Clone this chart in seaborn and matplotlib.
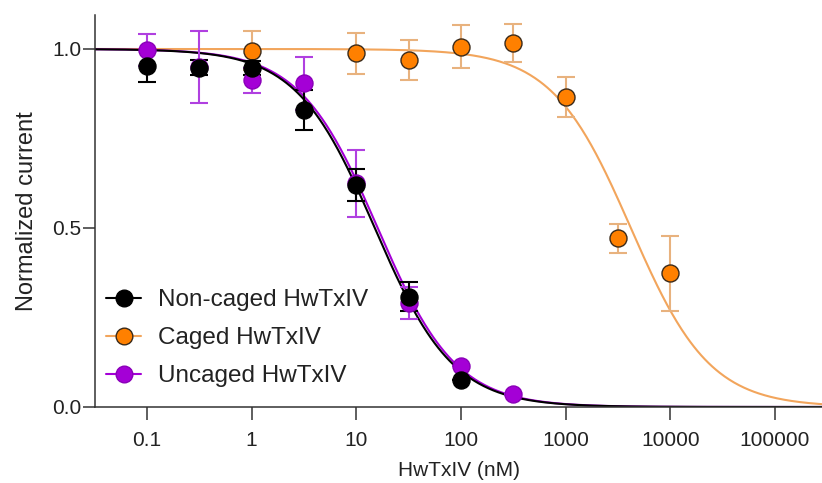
import numpy as np
import pandas as pd
import matplotlib
matplotlib.use("Agg")
import matplotlib.pyplot as plt
from matplotlib.lines import Line2D
import seaborn as sns

# --- data ---
conc_noncaged = [0.1, 0.316, 1, 3.16, 10, 31.6, 100]
resp_noncaged = [0.953, 0.948, 0.946, 0.830, 0.620, 0.308, 0.075]
err_noncaged = [0.045, 0.02, 0.02, 0.056, 0.045, 0.040, 0.0]

conc_caged = [1, 10, 31.6, 100, 316, 1000, 3162, 10000]
resp_caged = [0.995, 0.988, 0.969, 1.006, 1.018, 0.867, 0.471, 0.373]
err_caged = [0.055, 0.057, 0.055, 0.060, 0.053, 0.056, 0.040, 0.105]

conc_uncaged = [0.1, 0.316, 1, 3.16, 10, 31.6, 100, 316]
resp_uncaged = [0.997, 0.950, 0.913, 0.904, 0.625, 0.290, 0.115, 0.035]
err_uncaged = [0.045, 0.100, 0.035, 0.075, 0.093, 0.045, 0.0, 0.0]

# fitted Hill parameters (IC50 in nM, slope)
fit_noncaged = (15.0, 1.16)
fit_caged = (4200.0, 1.15)
fit_uncaged = (16.0, 1.16)

labels = ["Non-caged HwTxIV", "Caged HwTxIV", "Uncaged HwTxIV"]
marker_colors = ["#000000", "#FF8000", "#A400D6"]
curve_colors = ["#000000", "#F2A55C", "#A400D6"]
bar_colors = ["#000000", "#E8B27E", "#B040E0"]
edge_colors = ["#000000", "#3A2A1A", "#8A00B8"]

sns.set_style("ticks")
plt.rcParams["font.family"] = ["Liberation Sans", "DejaVu Sans"]

fig = plt.figure(figsize=(8.22, 4.83), dpi=100)
ax = fig.add_axes([0.1156, 0.1574, 0.8844, 0.8116])

xgrid = np.logspace(-1.5, 5.5, 600)
series = [
    (conc_noncaged, resp_noncaged, err_noncaged, fit_noncaged),
    (conc_caged, resp_caged, err_caged, fit_caged),
    (conc_uncaged, resp_uncaged, err_uncaged, fit_uncaged),
]

# curves (purple first so the black one sits on top)
for i in [1, 2, 0]:
    ic50, slope = series[i][3]
    curve = pd.DataFrame({"x": xgrid, "y": 1 / (1 + (xgrid / ic50) ** slope)})
    sns.lineplot(data=curve, x="x", y="y", ax=ax, color=curve_colors[i], lw=1.5, zorder=2)

# error bars and points
for i in [1, 2, 0]:
    xs, ys, es, _ = series[i]
    ax.errorbar(xs, ys, yerr=es, fmt="none", ecolor=bar_colors[i], elinewidth=1.5,
                capsize=6.5, capthick=1.5, zorder=3)
for i in [1, 2, 0]:
    xs, ys, es, _ = series[i]
    pts = pd.DataFrame({"x": xs, "y": ys})
    sns.scatterplot(data=pts, x="x", y="y", ax=ax, s=150, color=marker_colors[i],
                    edgecolor=edge_colors[i], linewidth=1.0, zorder=4, clip_on=False)

ax.set_xscale("log")
ax.set_xlim(10 ** -1.497, 10 ** 5.45)
ax.set_ylim(0, 1.095)

ax.set_xticks([0.1, 1, 10, 100, 1000, 10000, 100000])
ax.set_xticklabels(["0.1", "1", "10", "100", "1000", "10000", "100000"])
ax.minorticks_off()
ax.set_yticks([0, 0.5, 1.0])
ax.set_yticklabels(["0.0", "0.5", "1.0"])

ax.tick_params(axis="both", length=9, width=1.1, color="#333333",
               labelsize=15, labelcolor="#222222")
ax.tick_params(axis="y", pad=1)
ax.tick_params(axis="x", pad=8)

for side in ["top", "right"]:
    ax.spines[side].set_visible(False)
for side in ["left", "bottom"]:
    ax.spines[side].set_linewidth(1.1)
    ax.spines[side].set_color("#333333")

ax.set_xlabel("HwTxIV (nM)", fontsize=15, color="#222222", labelpad=8)
ax.set_ylabel("Normalized current", fontsize=17, color="#222222", labelpad=10)

handles = [
    Line2D([0], [0], color=curve_colors[i], lw=1.5, marker="o", markersize=12,
           markerfacecolor=marker_colors[i], markeredgecolor=edge_colors[i])
    for i in range(3)
]
ax.legend(handles, labels, loc="lower left", bbox_to_anchor=(-0.015, -0.005),
          frameon=False, fontsize=17.5, handlelength=1.45, handletextpad=0.7,
          labelspacing=0.65, labelcolor="#222222")

fig.savefig("out.png", dpi=100)
